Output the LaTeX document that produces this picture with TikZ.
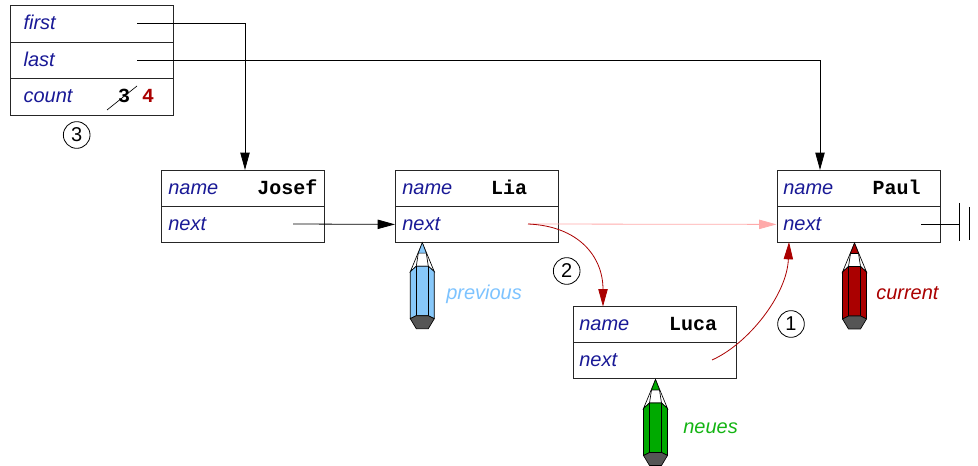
\documentclass[tikz,border=0pt]{standalone}
\usepackage{fontspec}
\setmainfont{Liberation Sans}
\setmonofont{Liberation Mono}
\usetikzlibrary{arrows.meta,calc}

\definecolor{fieldblue}{RGB}{25,25,150}
\definecolor{darkred}{RGB}{170,0,0}
\definecolor{paleptr}{RGB}{255,170,170}
\definecolor{skyblue}{RGB}{135,200,250}
\definecolor{skytext}{RGB}{125,195,255}
\definecolor{leafgreen}{RGB}{0,170,0}
\definecolor{leaftext}{RGB}{20,180,20}
\definecolor{capgray}{RGB}{85,85,85}

% a sharpened hexagonal pencil, tip at the origin, pointing up
\tikzset{pics/pencil/.style={code={
  \draw[line width=0.5pt, fill=white] (0,0) -- (-12,29) -- (-6,23.5) -- (6,23.5) -- (12,29) -- cycle;
  \draw[line width=0.5pt] (-4,10.5) -- (-6,23.5) (4,10.5) -- (6,23.5);
  \draw[line width=0.4pt, fill=#1] (0,0) -- (-4,10.5) -- (4,10.5) -- cycle;
  \draw[line width=0.5pt, fill=#1] (-12,29) -- (-6,23.5) -- (6,23.5) -- (12,29) -- (12,76) -- (6,73) -- (-6,73) -- (-12,76) -- cycle;
  \draw[line width=0.5pt] (-6,23.5) -- (-6,73) (6,23.5) -- (6,73);
  \draw[line width=0.5pt, fill=capgray] (-12,76) -- (-6,73) -- (6,73) -- (12,76) -- (6,86) -- (-6,86) -- cycle;
}}}

\begin{document}
\begin{tikzpicture}[x=0.75pt,y=-0.75pt,
  every node/.style={font=\fontsize{15}{18}\selectfont},
  field/.style={draw=black!85, fill=white, line width=0.6pt, minimum width=122.5pt,
    minimum height=27pt, inner sep=0pt, anchor=north west},
  headfield/.style={field, minimum height=27.5pt},
  fname/.style={anchor=base west, inner sep=0pt, text=fieldblue,
    font=\fontsize{15}{18}\selectfont\itshape},
  value/.style={anchor=base, inner sep=0pt, font=\fontsize{15}{18}\selectfont\ttfamily\bfseries},
  ptr/.style={line width=0.6pt, -{Triangle[length=13pt,width=7pt]}},
  num/.style={circle, draw, line width=0.6pt, minimum size=20pt, inner sep=0pt},
  tag/.style={anchor=base west, inner sep=0pt, font=\fontsize{15}{18}\selectfont\itshape},
]
\useasboundingbox (0,0) rectangle (978,466);

% list head
\node[headfield] (hd-first) at (10,5) {};
\node[headfield] (hd-last)  at (10,41.7) {};
\node[headfield] (hd-count) at (10,78.3) {};
\node[fname] (t-first) at (23.3,30) {first};
\node[fname] (t-last)  at (23.3,66.5) {last};
\node[fname] (t-count) at (23.3,103) {count};
\node[value] (old-count) at (124,103) {3};
\node[value, text=darkred] (new-count) at (148,103) {4};
\draw[line width=0.5pt] (107,110) -- (137,86);
\node[num] (num3) at (76.7,135) {3};

% records
\node[field] (josef-name) at (161,170) {};
\node[field] (josef-next) at (161,206) {};
\node[fname] at (168,194.3) {name};
\node[fname] at (168,230.3) {next};
\node[value] at (287.5,194.3) {Josef};

\node[field] (lia-name) at (395,170) {};
\node[field] (lia-next) at (395,206) {};
\node[fname] at (402,194.3) {name};
\node[fname] at (402,230.3) {next};
\node[value] at (509,194.3) {Lia};

\node[field] (paul-name) at (776.5,170) {};
\node[field] (paul-next) at (776.5,206) {};
\node[fname] at (783,194.3) {name};
\node[fname] at (783,230.3) {next};
\node[value] at (896.5,194.3) {Paul};

\node[field] (luca-name) at (572.5,306.5) {};
\node[field] (luca-next) at (572.5,342.5) {};
\node[fname] at (579,330.8) {name};
\node[fname] at (579,366.8) {next};
\node[value] at (693,330.8) {Luca};

% pointer sources and targets
\coordinate (first-src) at (137,23.7);
\coordinate (last-src)  at (137,60);
\coordinate (josef-src) at (293,224);
\coordinate (lia-src)   at (528,224);
\coordinate (luca-src)  at (712,360);
\coordinate (paul-src)  at (921,224);
\coordinate (josef-in)  at (245,170);
\coordinate (paul-in)   at (820,170);
\coordinate (luca-in)   at (603,306.5);
\coordinate (paul-up)   at (789,242);
\coordinate (nil)       at (959,224);

% pointers
\draw[ptr] (first-src) -| (josef-in);
\draw[ptr] (last-src) -| (paul-in);
\draw[ptr] (josef-src) -- (lia-next.west);
\draw[ptr, draw=paleptr] (lia-src) -- (paul-next.west);
\draw[ptr, draw=darkred] (lia-src) .. controls (578,226) and (603,256) .. (luca-in);
\draw[ptr, draw=darkred] (luca-src) .. controls (748,344) and (787,295) .. (paul-up);
\node[num] (num2) at (566.7,271) {2};
\node[num] (num1) at (791,324) {1};

% null terminator
\draw[line width=0.6pt] (paul-src) -- (nil);
\draw[line width=0.6pt] (959,203) -- (959,241) (969,207) -- (969,240);

% pencils
\pic at (422.3,242.7) {pencil=skyblue};
\node[tag, text=skytext] (t-prev) at (446,300) {previous};
\pic at (854.5,243) {pencil=darkred};
\node[tag, text=darkred] (t-cur) at (876,299.5) {current};
\pic at (655.5,379.5) {pencil=leafgreen};
\node[tag, text=leaftext] (t-new) at (683,434) {neues};
\end{tikzpicture}
\end{document}
